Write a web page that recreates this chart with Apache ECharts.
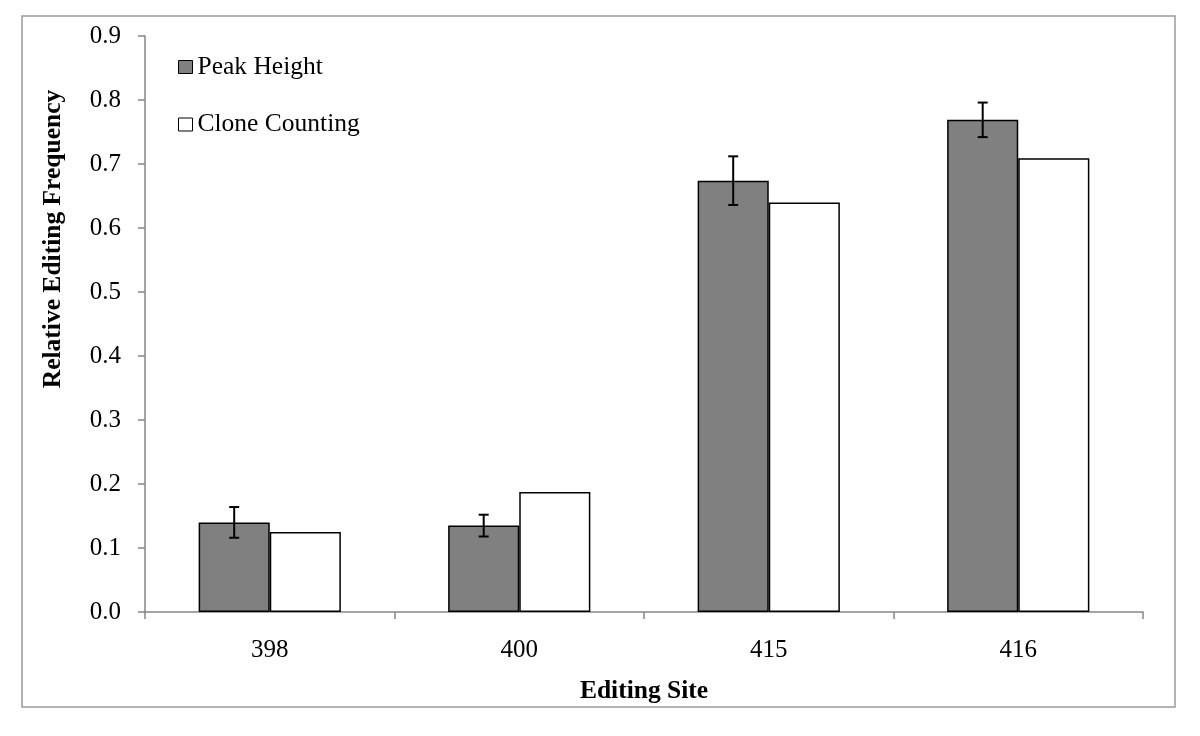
<!DOCTYPE html>
<html>
<head>
<meta charset="utf-8">
<script src="https://cdn.jsdelivr.net/npm/echarts@6/dist/echarts.min.js"></script>
<style>
html,body{margin:0;padding:0;background:#fff;}
#chart{width:1200px;height:736px;}
</style>
</head>
<body>
<div id="chart"></div>
<script>
const categories = ['398', '400', '415', '416'];
const peakHeight = [0.140, 0.135, 0.674, 0.769];
const peakError = [0.024, 0.017, 0.038, 0.027];
const cloneCounting = [0.125, 0.1875, 0.640, 0.709];
const yTicks = [0, 0.1, 0.2, 0.3, 0.4, 0.5, 0.6, 0.7, 0.8, 0.9];

const FONT = "'Liberation Serif', 'Times New Roman', serif";
const GAP = 0.43;

const chart = echarts.init(document.getElementById('chart'));
const errData = peakHeight.map((v, i) => [i, v, peakError[i]]);

chart.setOption({
  animation: false,
  backgroundColor: '#fff',
  textStyle: { fontFamily: FONT, color: '#000' },
  grid: { left: 145, right: 57, top: 36, bottom: 124, containLabel: false },
  legend: {
    orient: 'vertical',
    left: 178,
    top: 54,
    padding: 0,
    icon: 'rect',
    itemWidth: 14,
    itemHeight: 13,
    itemGap: 31.5,
    textStyle: { fontFamily: FONT, fontSize: 25.5, color: '#000', lineHeight: 25 },
    data: [
      { name: 'Peak Height', itemStyle: { color: '#808080', borderColor: '#000', borderWidth: 1 } },
      { name: 'Clone Counting', itemStyle: { color: '#fff', borderColor: '#000', borderWidth: 1 } }
    ]
  },
  xAxis: {
    type: 'category',
    data: categories,
    boundaryGap: true,
    name: 'Editing Site',
    nameLocation: 'middle',
    nameGap: 66,
    nameTextStyle: { fontFamily: FONT, fontSize: 25.5, fontWeight: 'bold', color: '#000' },
    axisLine: { lineStyle: { color: '#868686', width: 1.5 } },
    axisTick: { show: true, length: 7, lineStyle: { color: '#868686', width: 1.5 } },
    axisLabel: { fontFamily: FONT, fontSize: 25, color: '#000', margin: 26 },
    splitLine: { show: false }
  },
  yAxis: {
    type: 'value',
    min: 0,
    max: 0.9,
    interval: 0.1,
    axisLine: { show: true, lineStyle: { color: '#868686', width: 1.5 } },
    axisTick: { show: true, length: 7, lineStyle: { color: '#868686', width: 1.5 } },
    axisLabel: {
      fontFamily: FONT, fontSize: 25, color: '#000', margin: 24,
      formatter: function (v) {
        const t = yTicks.find(x => Math.abs(x - v) < 1e-9);
        return (t !== undefined ? t : v).toFixed(1);
      }
    },
    splitLine: { show: false }
  },
  graphic: [
    {
      type: 'rect',
      shape: { x: 22, y: 16, width: 1153, height: 691 },
      style: { fill: 'none', stroke: '#9a9a9a', lineWidth: 1.5 },
      z: -1
    },
    {
      type: 'text',
      x: 53,
      y: 239,
      rotation: Math.PI / 2,
      style: {
        text: 'Relative Editing Frequency',
        font: "bold 25.5px 'Liberation Serif', 'Times New Roman', serif",
        fill: '#000',
        align: 'center',
        verticalAlign: 'middle'
      }
    }
  ],
  series: [
    {
      name: 'Peak Height',
      type: 'bar',
      data: peakHeight,
      barGap: '0%',
      barCategoryGap: (GAP * 100) + '%',
      itemStyle: { color: '#808080', borderColor: '#000', borderWidth: 1.5 }
    },
    {
      name: 'Clone Counting',
      type: 'bar',
      data: cloneCounting,
      barGap: '0%',
      barCategoryGap: (GAP * 100) + '%',
      itemStyle: { color: '#ffffff', borderColor: '#000', borderWidth: 1.5 }
    },
    {
      name: 'err',
      type: 'custom',
      data: errData,
      encode: { x: 0, y: 1 },
      z: 10,
      silent: true,
      renderItem: function (params, api) {
        const i = api.value(0);
        const v = api.value(1);
        const e = api.value(2);
        const band = api.size([1, 0])[0];
        const barW = band * (1 - GAP) / 2;
        const top = api.coord([i, v + e]);
        const bot = api.coord([i, v - e]);
        const x = top[0] - barW / 2;
        const cap = 5;
        const style = { stroke: '#000', lineWidth: 2 };
        return {
          type: 'group',
          children: [
            { type: 'line', shape: { x1: x, y1: top[1], x2: x, y2: bot[1] }, style: style },
            { type: 'line', shape: { x1: x - cap, y1: top[1], x2: x + cap, y2: top[1] }, style: style },
            { type: 'line', shape: { x1: x - cap, y1: bot[1], x2: x + cap, y2: bot[1] }, style: style }
          ]
        };
      }
    }
  ]
});
</script>
</body>
</html>
